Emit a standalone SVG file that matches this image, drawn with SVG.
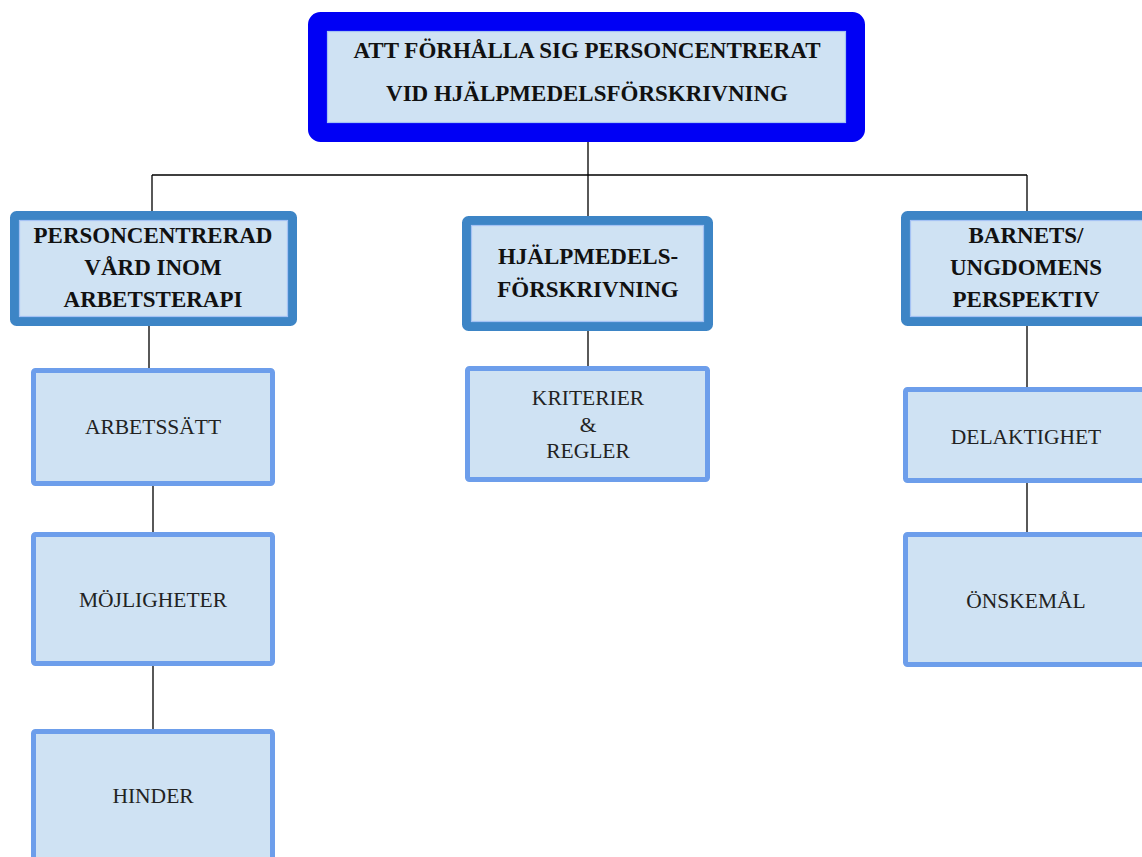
<svg xmlns="http://www.w3.org/2000/svg" width="1142" height="857" viewBox="0 0 1142 857">
<style>
.bg{fill:#ffffff}
.top{fill:#cfe2f3;stroke:#0000f5;stroke-width:19}
.l2{fill:#cfe2f3;stroke:#3d85c6;stroke-width:9}
.l3{fill:#cfe2f3;stroke:#6d9eeb;stroke-width:5}
.hl{fill:none;stroke:#a4c2f4;stroke-width:1.2}
.conn{fill:none;stroke:#000000;stroke-width:1.3}
.tb{font-family:"Liberation Serif","Times New Roman",serif;font-weight:bold;font-size:23px;fill:#111111;text-anchor:middle}
.tr{font-family:"Liberation Serif","Times New Roman",serif;font-size:21.5px;fill:#222222;text-anchor:middle}
</style>
<rect class="bg" x="0" y="0" width="1142" height="857"/>
<g id="connectors">
<path class="conn" d="M588 140V175M152 175H1027M152 175V213M588 175V218M1027 175V213"/>
<path class="conn" d="M149 324V370M153 484V534M153 664V731"/>
<path class="conn" d="M588 329V368"/>
<path class="conn" d="M1027 324V389M1027 481V534"/>
</g>
<g id="n-title">
<rect class="top" x="317.5" y="21.5" width="538" height="111" rx="3"/>
<rect class="hl" x="327.5" y="31.5" width="518" height="91"/>
<text class="tb" x="587" y="58">ATT FÖRHÅLLA SIG PERSONCENTRERAT</text>
<text class="tb" x="587" y="101">VID HJÄLPMEDELSFÖRSKRIVNING</text>
</g>
<g id="n-personcentrerad">
<rect class="l2" x="14.5" y="215.5" width="278" height="106" rx="2"/>
<rect class="hl" x="19.5" y="220.5" width="268" height="96"/>
<text class="tb" x="153" y="243">PERSONCENTRERAD</text>
<text class="tb" x="153" y="275">VÅRD INOM</text>
<text class="tb" x="153" y="307">ARBETSTERAPI</text>
</g>
<g id="n-hjalpmedels">
<rect class="l2" x="466.5" y="220.5" width="242" height="106" rx="2"/>
<rect class="hl" x="471.5" y="225.5" width="232" height="96"/>
<text class="tb" x="588" y="264">HJÄLPMEDELS-</text>
<text class="tb" x="588" y="297">FÖRSKRIVNING</text>
</g>
<g id="n-barnets">
<rect class="l2" x="905.5" y="215.5" width="280" height="106" rx="2"/>
<rect class="hl" x="910.5" y="220.5" width="270" height="96"/>
<text class="tb" x="1026" y="243">BARNETS/</text>
<text class="tb" x="1026" y="275">UNGDOMENS</text>
<text class="tb" x="1026" y="307">PERSPEKTIV</text>
</g>
<g id="n-arbetssatt">
<rect class="l3" x="33.5" y="370.5" width="239" height="113" rx="2"/>
<text class="tr" x="153" y="434">ARBETSSÄTT</text>
</g>
<g id="n-mojligheter">
<rect class="l3" x="33.5" y="534.5" width="239" height="129" rx="2"/>
<text class="tr" x="153" y="607">MÖJLIGHETER</text>
</g>
<g id="n-hinder">
<rect class="l3" x="33.5" y="731.5" width="239" height="140" rx="2"/>
<text class="tr" x="153" y="803">HINDER</text>
</g>
<g id="n-kriterier">
<rect class="l3" x="467.5" y="368.5" width="240" height="111" rx="2"/>
<text class="tr" x="588" y="405">KRITERIER</text>
<text class="tr" x="588" y="432">&amp;</text>
<text class="tr" x="588" y="458">REGLER</text>
</g>
<g id="n-delaktighet">
<rect class="l3" x="905.5" y="389.5" width="260" height="91" rx="2"/>
<text class="tr" x="1026" y="444">DELAKTIGHET</text>
</g>
<g id="n-onskemal">
<rect class="l3" x="905.5" y="534.5" width="260" height="130" rx="2"/>
<text class="tr" x="1026" y="608">ÖNSKEMÅL</text>
</g>
</svg>
